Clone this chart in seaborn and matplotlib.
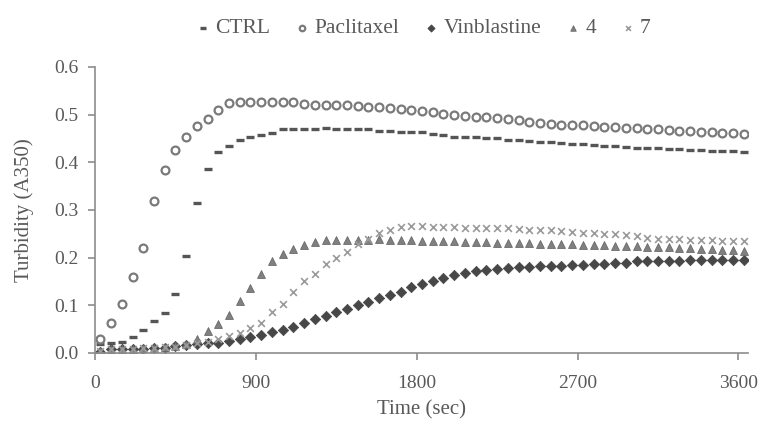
import seaborn as sns
import matplotlib.pyplot as plt
import pandas as pd

# sampling times (sec), one reading every minute
time = list(range(30, 3631, 60))

ctrl = [0.018, 0.020, 0.023, 0.034, 0.048, 0.067, 0.084, 0.124, 0.203, 0.314,
        0.386, 0.422, 0.434, 0.446, 0.453, 0.458, 0.462, 0.469, 0.470, 0.470,
        0.469, 0.471, 0.469, 0.469, 0.469, 0.469, 0.466, 0.466, 0.464, 0.463,
        0.463, 0.459, 0.458, 0.453, 0.453, 0.452, 0.450, 0.450, 0.447, 0.446,
        0.444, 0.443, 0.443, 0.441, 0.439, 0.439, 0.437, 0.434, 0.434, 0.432,
        0.430, 0.430, 0.430, 0.427, 0.427, 0.425, 0.425, 0.423, 0.423, 0.423,
        0.422]

paclitaxel = [0.030, 0.062, 0.102, 0.160, 0.220, 0.319, 0.383, 0.425, 0.453, 0.476,
              0.490, 0.509, 0.524, 0.526, 0.527, 0.527, 0.527, 0.526, 0.526, 0.523,
              0.521, 0.520, 0.520, 0.519, 0.518, 0.516, 0.515, 0.513, 0.511, 0.509,
              0.507, 0.505, 0.502, 0.499, 0.497, 0.495, 0.494, 0.492, 0.490, 0.488,
              0.485, 0.482, 0.480, 0.479, 0.478, 0.477, 0.476, 0.474, 0.473, 0.472,
              0.471, 0.470, 0.469, 0.467, 0.466, 0.465, 0.464, 0.463, 0.462, 0.461,
              0.459]

vinblastine = [0.002, 0.008, 0.008, 0.008, 0.008, 0.010, 0.011, 0.014, 0.016, 0.018,
               0.020, 0.021, 0.025, 0.029, 0.034, 0.038, 0.043, 0.048, 0.055, 0.062,
               0.072, 0.078, 0.085, 0.092, 0.100, 0.107, 0.115, 0.122, 0.127, 0.138,
               0.145, 0.150, 0.157, 0.164, 0.167, 0.171, 0.174, 0.176, 0.178, 0.180,
               0.181, 0.182, 0.183, 0.183, 0.185, 0.185, 0.187, 0.187, 0.188, 0.189,
               0.192, 0.192, 0.192, 0.192, 0.192, 0.194, 0.194, 0.194, 0.194, 0.195,
               0.195]

cmpd4 = [0.004, 0.008, 0.009, 0.009, 0.010, 0.011, 0.012, 0.014, 0.018, 0.029,
         0.047, 0.060, 0.080, 0.110, 0.136, 0.165, 0.192, 0.208, 0.218, 0.227,
         0.232, 0.236, 0.237, 0.237, 0.236, 0.237, 0.238, 0.237, 0.236, 0.236,
         0.235, 0.235, 0.234, 0.234, 0.233, 0.233, 0.232, 0.231, 0.231, 0.230,
         0.230, 0.229, 0.229, 0.228, 0.228, 0.227, 0.227, 0.226, 0.225, 0.224,
         0.224, 0.223, 0.222, 0.222, 0.221, 0.220, 0.219, 0.218, 0.216, 0.215,
         0.213]

cmpd7 = [0.005, 0.008, 0.009, 0.009, 0.010, 0.011, 0.012, 0.013, 0.016, 0.020,
         0.024, 0.029, 0.036, 0.042, 0.052, 0.063, 0.087, 0.103, 0.127, 0.150,
         0.166, 0.187, 0.199, 0.211, 0.229, 0.239, 0.251, 0.258, 0.264, 0.266,
         0.266, 0.265, 0.265, 0.264, 0.263, 0.262, 0.262, 0.262, 0.262, 0.260,
         0.258, 0.257, 0.257, 0.255, 0.253, 0.252, 0.252, 0.250, 0.250, 0.248,
         0.245, 0.242, 0.239, 0.239, 0.238, 0.237, 0.236, 0.236, 0.234, 0.234,
         0.234]

sns.set_style("ticks")
plt.rcParams['font.family'] = ['Liberation Serif', 'DejaVu Serif']
grey_txt = '#595959'
grey_ax = '#8c8c8c'

fig = plt.figure(figsize=(7.66, 4.23), dpi=100)
ax = fig.add_axes([0.124, 0.1655, 0.853, 0.6765])

# one call per series (filled and line-art markers can't be mixed in one call)
sns.scatterplot(x=time, y=ctrl, ax=ax, marker='_', s=30, color='#555555',
                linewidth=2.4, label='CTRL')
sns.scatterplot(x=time, y=paclitaxel, ax=ax, marker='o', s=32, facecolor='white',
                edgecolor='#7a7a7a', linewidth=1.6, label='Paclitaxel')
sns.scatterplot(x=time, y=vinblastine, ax=ax, marker='D', s=28, color='#474747',
                edgecolor='#474747', linewidth=0.5, label='Vinblastine')
sns.scatterplot(x=time, y=cmpd4, ax=ax, marker='^', s=32, color='#808080',
                edgecolor='#6a6a6a', linewidth=0.6, label='4')
sns.scatterplot(x=time, y=cmpd7, ax=ax, marker='x', s=24, color='#9a9a9a',
                linewidth=1.2, label='7')

ax.set_xlim(0, 3656)
ax.set_ylim(0, 0.6)
ax.set_xticks([0, 900, 1800, 2700, 3600])
ax.set_yticks([0, 0.1, 0.2, 0.3, 0.4, 0.5, 0.6])
ax.set_yticklabels([f'{v:.1f}' for v in ax.get_yticks()])
ax.tick_params(colors=grey_ax, labelcolor=grey_txt, labelsize=14, length=5,
               width=1.2)
ax.tick_params(axis='x', pad=11)
ax.tick_params(axis='y', pad=7)
for side in ['left', 'bottom']:
    ax.spines[side].set_color(grey_ax)
    ax.spines[side].set_linewidth(1.2)
sns.despine(ax=ax)

ax.set_xlabel('Time (sec)', fontsize=15, color=grey_txt, labelpad=6)
ax.set_ylabel('Turbidity (A350)', fontsize=15, color=grey_txt, labelpad=14)

ax.legend(loc='center', bbox_to_anchor=(0.5, 1.135), ncol=5, frameon=False,
          fontsize=15.5, labelcolor=grey_txt, handletextpad=0.05,
          columnspacing=1.0, markerscale=0.7, handlelength=1.0)

fig.savefig('out.png', dpi=100)
